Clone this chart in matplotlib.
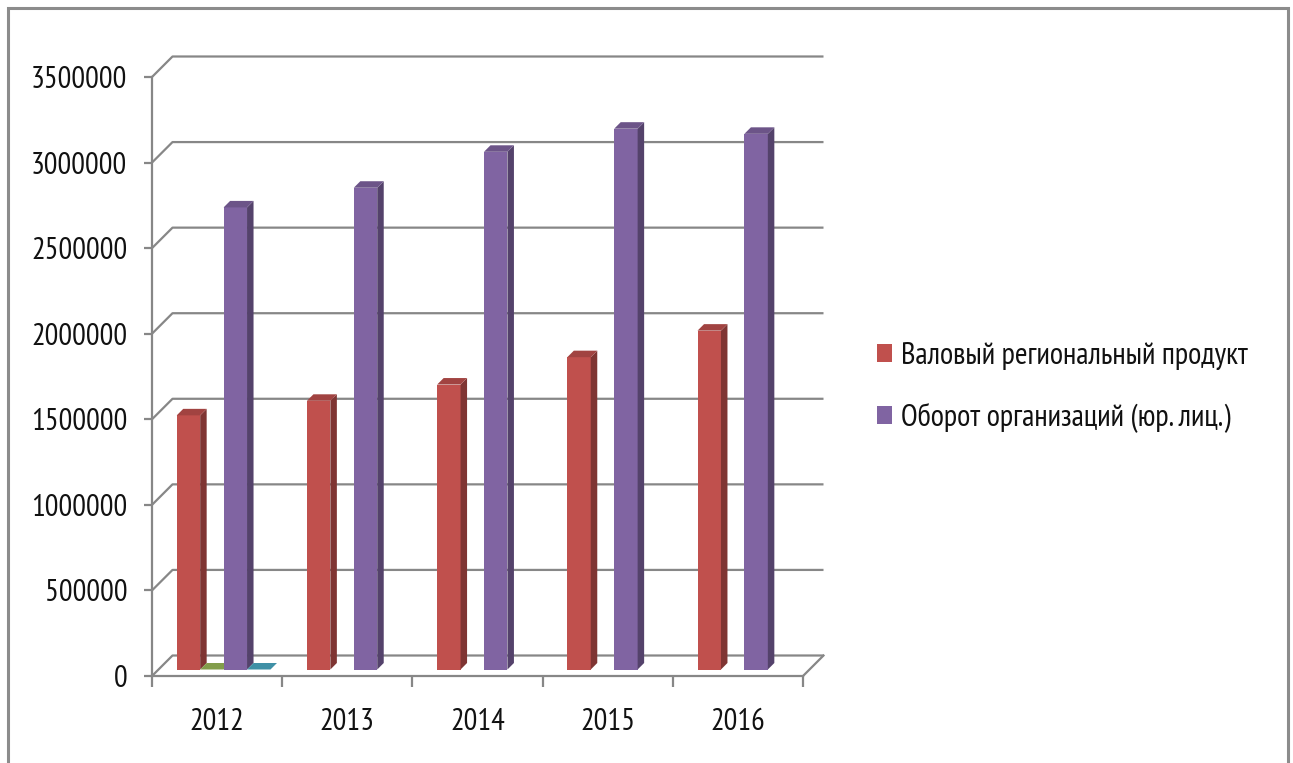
import numpy as np
import matplotlib
matplotlib.use("Agg")
import matplotlib.pyplot as plt
from matplotlib.patches import Polygon, Rectangle, Patch
from matplotlib.colors import to_rgb
from matplotlib import font_manager as fm

# ---- data ----
years = ["2012", "2013", "2014", "2015", "2016"]
grp_values = [1485000, 1570000, 1665000, 1825000, 1980000]        # Валовый региональный продукт
turnover_values = [2700000, 2815000, 3025000, 3160000, 3130000]   # Оборот организаций (юр. лиц.)
extra1_values = [0, np.nan, np.nan, np.nan, np.nan]                # hidden series (zero)
extra2_values = [0, np.nan, np.nan, np.nan, np.nan]                # hidden series (zero)
series_names = ["Валовый региональный продукт", "Оборот организаций (юр. лиц.)"]
y_ticks = [0, 500000, 1000000, 1500000, 2000000, 2500000, 3000000, 3500000]
y_tick_labels = [str(v) for v in y_ticks]

colors = ["#C0504D", "#9BBB59", "#8064A2", "#4BACC6"]
all_series = [grp_values, extra1_values, turnover_values, extra2_values]

available = {f.name for f in fm.fontManager.ttflist}
candidates = ["PT Sans Narrow", "Liberation Sans Narrow", "Arial Narrow",
              "Roboto Condensed", "IBM Plex Sans Condensed", "Open Sans"]
chosen = next((c for c in candidates if c in available), "DejaVu Sans")
FONT = [chosen, "DejaVu Sans"]
plt.rcParams["font.family"] = FONT
FS = 22

W, H, DPI = 1293, 763, 100
fig = plt.figure(figsize=(W / DPI, H / DPI), dpi=DPI)

# front-plane axes box (pixels)
x0p, x1p, y0p, y1p = 152, 803, 676, 77
ax = fig.add_axes([x0p / W, (H - y0p) / H, (x1p - x0p) / W, (y0p - y1p) / H])
ncat = len(years)
ymax = y_ticks[-1]
ax.set_xlim(0, ncat)
ax.set_ylim(0, ymax)
ax.patch.set_visible(False)

px_x = (x1p - x0p) / ncat        # pixels per category unit
px_y = (y0p - y1p) / ymax        # pixels per value unit


def off(p):
    """depth offset of p pixels -> (dx, dy) in data units"""
    return p / px_x, p / px_y


grid_col = "#878787"
grid_lw = 1.6

# walls / gridlines
DX, DY = off(20.5)
for v in y_ticks:
    ax.plot([0, DX, ncat + DX], [v, v + DY, v + DY], color=grid_col, lw=grid_lw,
            clip_on=False, zorder=1, solid_capstyle="butt")
ax.plot([ncat, ncat + DX], [0, DY], color=grid_col, lw=grid_lw, clip_on=False, zorder=1)


def darker(c, f):
    r, g, b = to_rgb(c)
    return (r * f, g * f, b * f)


bw = 0.18
gap = (1 - bw * 4) / 2
fdx, fdy = off(6.5)    # front face depth
ddx, ddy = off(6.5)    # bar depth
for j, (vals, col) in enumerate(zip(all_series, colors)):
    xs = np.arange(ncat) + gap + j * bw + fdx
    for xl, v in zip(xs, vals):
        if np.isnan(v):
            continue
        xr = xl + bw
        b = fdy
        if v > 0:
            ax.bar(xl, v, bottom=b, width=bw, align="edge", color=col,
                   edgecolor="none", clip_on=False, zorder=3)
            ax.add_patch(Polygon([(xr, b), (xr + ddx, b + ddy), (xr + ddx, b + v + ddy), (xr, b + v)],
                                 closed=True, facecolor=darker(col, 0.66), edgecolor="none",
                                 clip_on=False, zorder=3))
        ax.add_patch(Polygon([(xl, b + v), (xr, b + v), (xr + ddx, b + v + ddy), (xl + ddx, b + v + ddy)],
                             closed=True, facecolor=darker(col, 0.84), edgecolor="none",
                             clip_on=False, zorder=3))

for s in ["top", "right"]:
    ax.spines[s].set_visible(False)
for s in ["left", "bottom"]:
    ax.spines[s].set_color(grid_col)
    ax.spines[s].set_linewidth(grid_lw)
    ax.spines[s].set_zorder(4)

ax.set_yticks(y_ticks)
ax.set_yticklabels(y_tick_labels)
ax.tick_params(axis="y", direction="out", length=5.8, width=grid_lw, color=grid_col,
               pad=12, labelsize=FS, labelcolor="#111111")

ax.set_xticks(np.arange(ncat + 1))
ax.set_xticklabels([])
ax.set_xticks(np.arange(ncat) + 0.5, minor=True)
ax.set_xticklabels(years, minor=True)
ax.tick_params(axis="x", which="major", direction="out", length=8, width=grid_lw, color=grid_col)
ax.tick_params(axis="x", which="minor", length=0, pad=23, labelsize=FS, labelcolor="#111111")

handles = [Patch(facecolor=colors[0], edgecolor="none"), Patch(facecolor=colors[2], edgecolor="none")]
fig.legend(handles, series_names, loc="center left",
           bbox_to_anchor=(877 / W, (H - 387.5) / H), frameon=False,
           fontsize=FS, handlelength=0.5, handleheight=0.54, handletextpad=0.28,
           labelspacing=1.08, borderpad=0, borderaxespad=0, labelcolor="#111111")

fig.add_artist(Rectangle((8 / W, -0.05), (1288 - 8) / W, 1.05 - 8 / H,
                         transform=fig.transFigure, fill=False, edgecolor="#8C8C8C", lw=2.2))

fig.savefig("out.png", dpi=DPI, facecolor="white")
